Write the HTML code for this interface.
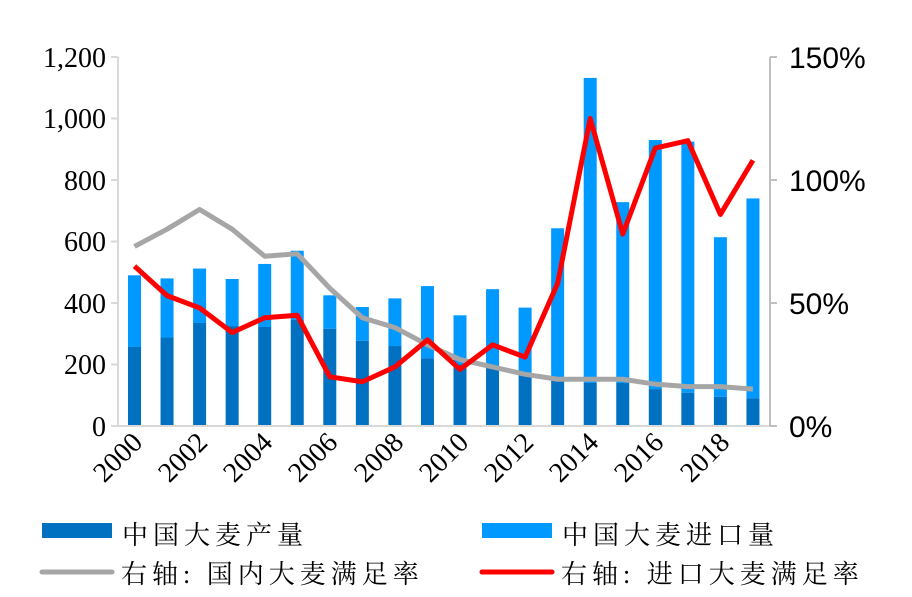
<!DOCTYPE html>
<html><head><meta charset="utf-8"><style>
body{margin:0;background:#fff;width:912px;height:597px;overflow:hidden}
svg{display:block}
.l{font-family:"Liberation Serif","Noto Serif CJK SC",serif;font-size:28px;fill:#000}
.r{font-family:"Liberation Sans",sans-serif;font-size:30px;fill:#000}
.x{font-family:"Liberation Serif",serif;font-size:28px;fill:#000}
.g{font-family:"Liberation Serif","Noto Serif CJK SC",serif;font-size:26px;letter-spacing:5px;fill:#000}
</style></head><body>
<svg id="s" width="912" height="597" xmlns="http://www.w3.org/2000/svg">
<g id="bars"></g>
<line x1="118" y1="57" x2="118" y2="426" stroke="#d9d9d9" stroke-width="2"/>
<line x1="118" y1="426" x2="770" y2="426" stroke="#d9d9d9" stroke-width="2"/>
<line x1="770" y1="57" x2="770" y2="426" stroke="#bfbfbf" stroke-width="2"/>
<g stroke="#d9d9d9" stroke-width="2">
<line x1="111" y1="57" x2="118" y2="57"/><line x1="111" y1="118.5" x2="118" y2="118.5"/><line x1="111" y1="180" x2="118" y2="180"/><line x1="111" y1="241.5" x2="118" y2="241.5"/><line x1="111" y1="303" x2="118" y2="303"/><line x1="111" y1="364.5" x2="118" y2="364.5"/><line x1="111" y1="426" x2="118" y2="426"/>
</g>
<g stroke="#bfbfbf" stroke-width="2">
<line x1="770" y1="57" x2="777" y2="57"/><line x1="770" y1="180" x2="777" y2="180"/><line x1="770" y1="303" x2="777" y2="303"/><line x1="770" y1="426" x2="777" y2="426"/>
</g>
<g id="lines"></g>
<g class="l" text-anchor="end">
<text x="106" y="67">1,200</text><text x="106" y="128">1,000</text><text x="106" y="190">800</text><text x="106" y="251">600</text><text x="106" y="313">400</text><text x="106" y="374">200</text><text x="106" y="436">0</text>
</g>
<g class="r">
<text x="789" y="68">150%</text><text x="789" y="191">100%</text><text x="789" y="314">50%</text><text x="789" y="437">0%</text>
</g>
<g class="x" text-anchor="end">
<text transform="translate(144,444) rotate(-45)">2000</text>
<text transform="translate(209,444) rotate(-45)">2002</text>
<text transform="translate(274,444) rotate(-45)">2004</text>
<text transform="translate(339,444) rotate(-45)">2006</text>
<text transform="translate(405,444) rotate(-45)">2008</text>
<text transform="translate(470,444) rotate(-45)">2010</text>
<text transform="translate(535,444) rotate(-45)">2012</text>
<text transform="translate(600,444) rotate(-45)">2014</text>
<text transform="translate(665,444) rotate(-45)">2016</text>
<text transform="translate(731,444) rotate(-45)">2018</text>
</g>
<rect x="42" y="523" width="70" height="15" fill="#0070C0"/>
<text class="g" x="122" y="544">中国大麦产量</text>
<rect x="482" y="523" width="70" height="15" fill="#0099FF"/>
<text class="g" x="562" y="544">中国大麦进口量</text>
<line x1="42" y1="572" x2="112" y2="572" stroke="#a6a6a6" stroke-width="5" stroke-linecap="round"/>
<text class="g" x="121" y="583">右轴: 国内大麦满足率</text>
<line x1="482" y1="572" x2="552" y2="572" stroke="#ff0000" stroke-width="5" stroke-linecap="round"/>
<text class="g" x="561" y="583">右轴: 进口大麦满足率</text>
</svg>
<script>
var tot=[490,480,512,478,527,570,425,387,415,455,360,445,385,643,1132,728,930,925,614,740];
var dk=[257,288,335,325,322,345,316,277,260,220,200,190,165,150,140,140,120,108,95,90];
var gr=[73,80,88,80,69,70,56,44,40,33,27,24,21,19,19,19,17,16,16,15];
var rd=[65,53,48,38,44,45,20,18,24,35,23,33,28,58,125,78,113,116,86,108];
var ns="http://www.w3.org/2000/svg",b=document.getElementById("bars"),L=document.getElementById("lines");
function cx(i){return 134.5+i*32.55}
function yv(v){return 426-v*0.3075}
function yp(p){return 426-p*2.46}
for(var i=0;i<20;i++){
 var r=document.createElementNS(ns,"rect");r.setAttribute("x",cx(i)-6.5);r.setAttribute("width",13);r.setAttribute("y",yv(tot[i]));r.setAttribute("height",(tot[i]-dk[i])*0.3075);r.setAttribute("fill","#0099FF");b.appendChild(r);
 r=document.createElementNS(ns,"rect");r.setAttribute("x",cx(i)-6.5);r.setAttribute("width",13);r.setAttribute("y",yv(dk[i]));r.setAttribute("height",dk[i]*0.3075);r.setAttribute("fill","#0070C0");b.appendChild(r);
}
function pl(d,c){var p=document.createElementNS(ns,"polyline");p.setAttribute("points",d.map(function(v,i){return cx(i)+","+yp(v)}).join(" "));p.setAttribute("fill","none");p.setAttribute("stroke",c);p.setAttribute("stroke-width",5);p.setAttribute("stroke-linejoin","round");L.appendChild(p);}
pl(gr,"#a6a6a6");pl(rd,"#ff0000");
</script>
</body></html>
